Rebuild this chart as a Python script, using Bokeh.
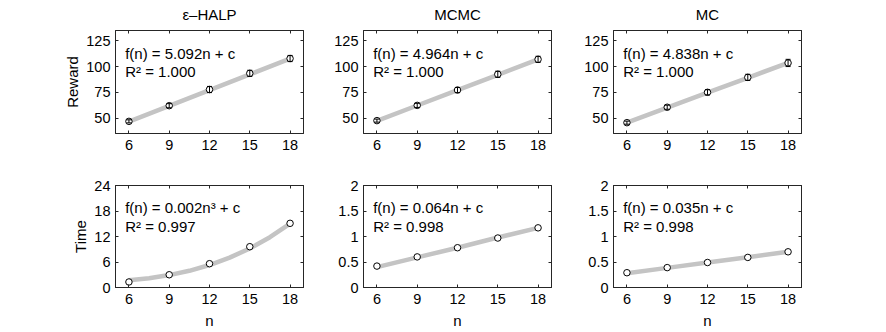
from bokeh.plotting import figure
from bokeh.models import LinearAxis, FixedTicker, Range1d, Label, Whisker, ColumnDataSource, TeeHead
from bokeh.layouts import column, row
from bokeh.embed import file_html
from bokeh.resources import INLINE

FONT = "Liberation Sans"
AX = "#262626"

# ---------------- data ----------------
n = [6, 9, 12, 15, 18]
titles = ["ε–HALP", "MCMC", "MC"]

halp_reward = [46.8, 62.0, 77.7, 93.4, 107.8]
halp_reward_err = [1.5, 2.0, 3.0, 3.0, 3.0]
halp_reward_fit = [46.5, 61.8, 77.1, 92.4, 107.6]

mcmc_reward = [47.5, 62.3, 77.2, 92.5, 107.0]
mcmc_reward_err = [1.5, 2.0, 2.5, 3.0, 3.0]
mcmc_reward_fit = [47.3, 62.2, 77.1, 92.0, 106.9]

mc_reward = [45.5, 60.5, 75.0, 89.5, 103.5]
mc_reward_err = [1.5, 2.0, 2.5, 3.0, 3.5]
mc_reward_fit = [45.6, 60.1, 74.6, 89.1, 103.6]

halp_time = [1.3, 3.0, 5.6, 9.6, 15.1]
halp_time_fit_n = [6, 7.5, 9, 10.5, 12, 13.5, 15, 16.5, 18]
halp_time_fit = [1.70, 2.19, 2.92, 3.93, 5.29, 7.02, 9.19, 11.84, 15.01]

mcmc_time = [0.42, 0.60, 0.78, 0.97, 1.17]
mcmc_time_fit = [0.40, 0.59, 0.78, 0.98, 1.17]

mc_time = [0.29, 0.39, 0.49, 0.59, 0.70]
mc_time_fit = [0.28, 0.385, 0.49, 0.595, 0.70]

reward_ticks = [50, 75, 100, 125]
halp_time_ticks = [0, 6, 12, 18, 24]
small_time_ticks = [0, 0.5, 1, 1.5, 2]
small_time_labels = {0: "0", 0.5: "0.5", 1: "1", 1.5: "1.5", 2: "2"}

reward_fx = ["f(n) = 5.092n + c", "f(n) = 4.964n + c", "f(n) = 4.838n + c"]
reward_r2 = ["R² = 1.000", "R² = 1.000", "R² = 1.000"]
time_fx = ["f(n) = 0.002n³ + c", "f(n) = 0.064n + c", "f(n) = 0.035n + c"]
time_r2 = ["R² = 0.997", "R² = 0.998", "R² = 0.998"]

# ---------------- layout ----------------
widths = [313, 248, 250]
borders_left = [115, 50, 52]


def style_axis(ax, hide_labels=False):
    ax.axis_line_color = AX
    ax.major_tick_line_color = AX
    ax.major_tick_in = 3
    ax.major_tick_out = 0
    ax.minor_tick_line_color = None
    ax.major_label_text_font = FONT
    ax.major_label_text_font_size = "14.5px"
    ax.major_label_text_color = "black"
    ax.axis_label_text_font = FONT
    ax.axis_label_text_font_size = "15px"
    ax.axis_label_text_font_style = "normal"
    ax.axis_label_text_color = "black"
    if hide_labels:
        ax.major_label_text_color = None
        ax.major_label_text_font_size = "0px"
        ax.major_label_standoff = 0


def make(col, top, y, fit_x, fit_y, yrange, yticks, fx, r2, err=None, ylabel=None, xlabel=None, ylabels=None):
    h = 157 if top else 174
    p = figure(width=widths[col], height=h, output_backend="svg", toolbar_location=None,
               x_range=Range1d(5, 19), y_range=Range1d(*yrange),
               min_border_left=borders_left[col], min_border_right=10,
               min_border_top=29 if top else 28, min_border_bottom=24 if top else 40,
               title=titles[col] if top else None)
    p.background_fill_color = "white"
    p.border_fill_color = "white"
    p.outline_line_color = AX
    p.grid.visible = False
    if top:
        p.title.align = "center"
        p.title.vertical_align = "top"
        p.title.text_font = FONT
        p.title.text_font_size = "15px"
        p.title.text_font_style = "normal"
        p.title.text_color = "black"
        p.title.standoff = 11
    p.xaxis.ticker = FixedTicker(ticks=n)
    p.yaxis.ticker = FixedTicker(ticks=yticks)
    if ylabels:
        p.yaxis.major_label_overrides = ylabels
    style_axis(p.xaxis[0])
    style_axis(p.yaxis[0])
    p.yaxis.axis_label_standoff = 2
    p.yaxis.major_label_standoff = 5
    p.xaxis.major_label_standoff = 6
    p.xaxis.axis_label_standoff = 5
    if ylabel:
        p.yaxis.axis_label = ylabel
    if xlabel:
        p.xaxis.axis_label = xlabel
    ta = LinearAxis(ticker=FixedTicker(ticks=n))
    style_axis(ta, True)
    p.add_layout(ta, "above")
    ra = LinearAxis(ticker=FixedTicker(ticks=yticks))
    style_axis(ra, True)
    p.add_layout(ra, "right")

    p.line(fit_x, fit_y, line_color="#c4c4c4", line_width=4.5)
    if err is not None:
        src = ColumnDataSource(dict(x=n, lo=[a - b for a, b in zip(y, err)], hi=[a + b for a, b in zip(y, err)]))
        w = Whisker(base="x", lower="lo", upper="hi", source=src, line_color="black", line_width=1,
                    upper_head=TeeHead(size=5, line_color="black", line_width=1),
                    lower_head=TeeHead(size=5, line_color="black", line_width=1), level="glyph")
        p.add_layout(w)
    p.scatter(n, y, marker="circle", size=6.5, line_color="black", fill_color="white", line_width=1)

    y0, y1 = yrange
    span = y1 - y0
    p.add_layout(Label(x=5.72, y=y1 - span * 0.22, text=fx, text_font=FONT, text_font_size="15px",
                       text_baseline="middle", text_color="black"))
    p.add_layout(Label(x=5.72, y=y1 - span * 0.40, text=r2, text_font=FONT, text_font_size="15px",
                       text_baseline="middle", text_color="black"))
    return p


top_row = [
    make(0, True, halp_reward, n, halp_reward_fit, (35, 135), reward_ticks, reward_fx[0], reward_r2[0],
         err=halp_reward_err, ylabel="Reward"),
    make(1, True, mcmc_reward, n, mcmc_reward_fit, (35, 135), reward_ticks, reward_fx[1], reward_r2[1],
         err=mcmc_reward_err),
    make(2, True, mc_reward, n, mc_reward_fit, (35, 135), reward_ticks, reward_fx[2], reward_r2[2],
         err=mc_reward_err),
]
bottom_row = [
    make(0, False, halp_time, halp_time_fit_n, halp_time_fit, (0, 24), halp_time_ticks, time_fx[0], time_r2[0],
         ylabel="Time", xlabel="n"),
    make(1, False, mcmc_time, n, mcmc_time_fit, (0, 2), small_time_ticks, time_fx[1], time_r2[1],
         xlabel="n", ylabels=small_time_labels),
    make(2, False, mc_time, n, mc_time_fit, (0, 2), small_time_ticks, time_fx[2], time_r2[2],
         xlabel="n", ylabels=small_time_labels),
]

layout = column(row(*top_row, spacing=0), row(*bottom_row, spacing=0), spacing=0)
open("out.html", "w").write(file_html(layout, INLINE))
